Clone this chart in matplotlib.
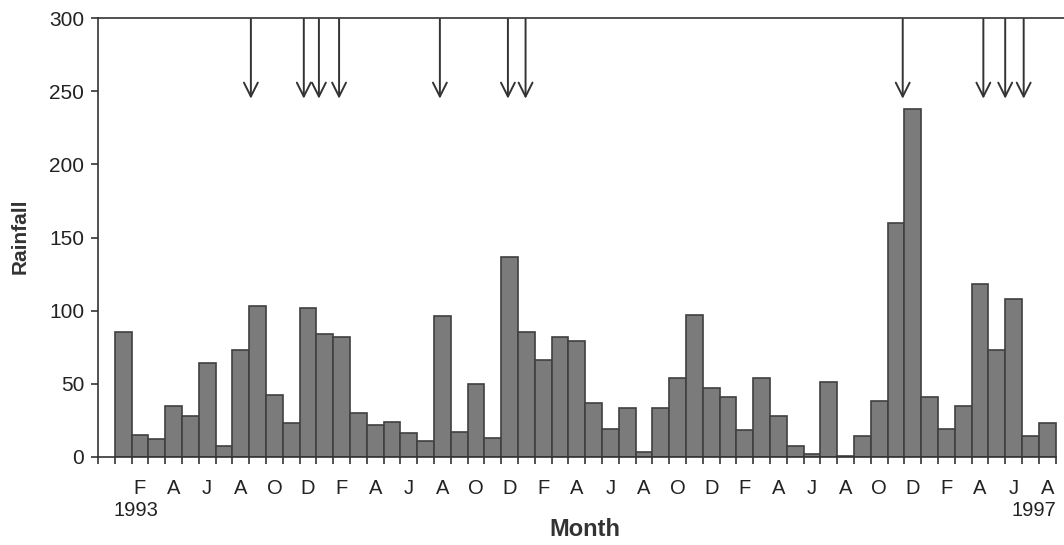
import numpy as np
import matplotlib
matplotlib.use("Agg")
import matplotlib.pyplot as plt
import matplotlib.transforms as mtransforms

plt.rcParams['font.family'] = ['Liberation Sans', 'DejaVu Sans']

# monthly rainfall, Jan 1993 - Aug 1997
rain_1993 = [85, 15, 12, 35, 28, 64, 7, 73, 103, 42, 23, 102]
rain_1994 = [84, 82, 30, 22, 24, 16, 11, 96, 17, 50, 13, 137]
rain_1995 = [85, 66, 82, 79, 37, 19, 33, 3, 33, 54, 97, 47]
rain_1996 = [41, 18, 54, 28, 7, 2, 51, 0.5, 14, 38, 160, 238]
rain_1997 = [41, 19, 35, 118, 73, 108, 14, 23]
rain = rain_1993 + rain_1994 + rain_1995 + rain_1996 + rain_1997

# event markers, in months since Jan 1993
events = [7.6, 10.75, 11.65, 12.85, 18.85, 22.9, 23.95, 46.4, 51.2, 52.5, 53.6]

month_letters = ["F", "A", "J", "A", "O", "D"]
year_labels = ["1993", "1997"]

x = np.arange(len(rain))

fig = plt.figure(figsize=(10.64, 5.45), dpi=100)
ax = fig.add_axes([0.0921, 0.162, 0.9079, 0.8044])

ax.bar(x, rain, width=1.0, color="#7b7b7b", edgecolor="#404040", linewidth=1.2)

for e in events:
    ax.annotate("", xy=(e, 245), xytext=(e, 299.5),
                arrowprops=dict(arrowstyle="->, head_length=1.0, head_width=0.5",
                                lw=1.4, color="#333333", shrinkA=0, shrinkB=0))

ax.set_xlim(-1.5, 56.0)
ax.set_ylim(0, 300)
ax.set_yticks([0, 50, 100, 150, 200, 250, 300])

# labels on every second month, starting at February
lab_pos = np.arange(1, len(rain), 2)
ax.set_xticks(lab_pos)
ax.set_xticklabels([month_letters[i % 6] for i in range(len(lab_pos))])
ax.set_xticks(np.arange(-1.5, len(rain), 1.0), minor=True)
ax.tick_params(axis="x", which="major", length=0, pad=16, labelsize=14.5, colors="#222222")
ax.tick_params(axis="x", which="minor", length=5, width=1.2, color="#333333", direction="out")
ax.tick_params(axis="y", length=5, width=1.2, color="#333333", pad=5, labelsize=15,
               labelcolor="#222222")

trans = mtransforms.blended_transform_factory(ax.transData, ax.transAxes)
ax.text(-0.6, -0.122, year_labels[0], transform=trans, ha="left", va="center",
        fontsize=14.5, color="#222222")
ax.text(55.55, -0.122, year_labels[1], transform=trans, ha="right", va="center",
        fontsize=14.5, color="#222222")

ax.set_xlabel("Month", fontsize=17, fontweight="bold", color="#333333")
ax.xaxis.set_label_coords(0.504, -0.167)
ax.get_xaxis().label.set_va("center")
ax.set_ylabel("Rainfall", fontsize=15, fontweight="bold", color="#333333")
ax.yaxis.set_label_coords(-0.081, 0.502)
ax.get_yaxis().label.set_va("center")

for s in ["left", "top", "bottom"]:
    ax.spines[s].set_color("#333333")
    ax.spines[s].set_linewidth(1.2)
ax.spines["right"].set_visible(False)
ax.spines["bottom"].set_bounds(-1.5, 55.5)

plt.savefig("out.png", dpi=100)
